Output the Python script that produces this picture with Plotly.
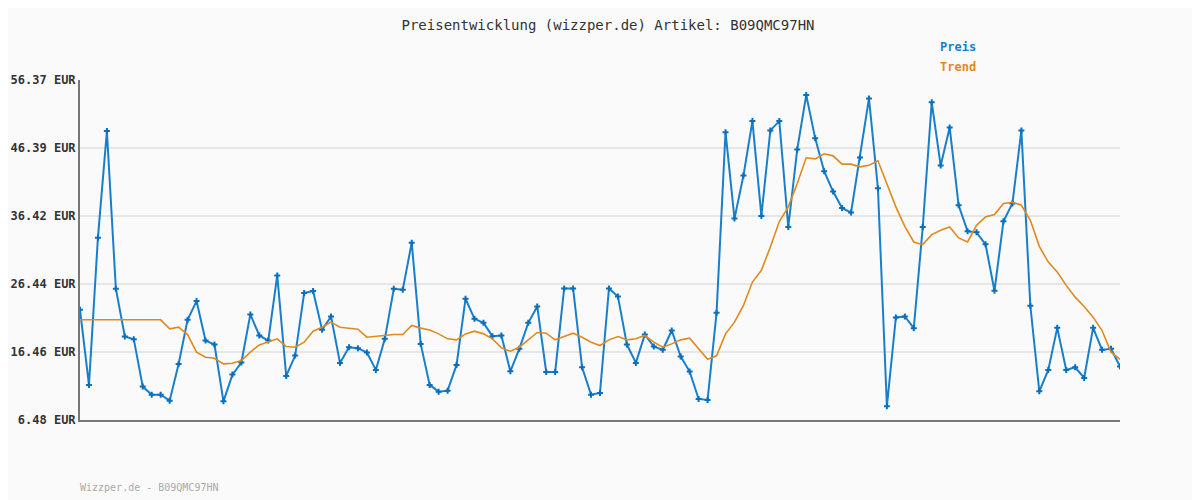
import plotly.graph_objects as go

preis = [22.65, 11.63, 33.24, 48.87, 25.74, 18.73, 18.34, 11.38, 10.2, 10.2,
         9.32, 14.71, 21.18, 23.93, 18.14, 17.55, 9.22, 13.14, 14.91, 21.97,
         18.88, 18.14, 27.7, 12.95, 15.94, 25.1, 25.4, 19.71, 21.67, 14.86,
         17.16, 17.02, 16.38, 13.83, 18.39, 25.74, 25.59, 32.5, 17.65, 11.63,
         10.64, 10.79, 14.56, 24.27, 21.33, 20.74, 18.78, 18.88, 13.63, 16.92,
         20.74, 23.14, 13.53, 13.53, 25.79, 25.79, 14.22, 10.2, 10.45, 25.79,
         24.61, 17.55, 14.86, 19.02, 17.26, 16.77, 19.61, 15.79, 13.58, 9.57,
         9.42, 22.21, 48.72, 36.03, 42.35, 50.34, 36.42, 48.97, 50.34,
         34.8, 46.18, 54.16, 47.84, 42.99, 40.0, 37.6, 36.91, 45.0, 53.67,
         40.49, 8.49, 21.52, 21.67, 19.96, 34.8, 53.09, 43.82, 49.41, 37.99,
         34.17, 34.02, 32.26, 25.44, 35.64, 38.24, 48.97, 23.24, 10.69, 13.83,
         20.0, 13.83, 14.22, 12.65, 20.0, 16.77, 16.92, 14.32]

trend = [21.18] * 10 + [
    19.86, 20.1, 19.02, 16.43, 15.69, 15.54, 14.71, 14.81, 15.2, 16.43,
    17.5, 17.9, 18.39, 17.26, 17.16, 17.9, 19.51, 20.1, 20.84, 20.1,
    19.96, 19.81, 18.63, 18.78, 18.88, 19.02, 19.02, 20.35, 19.96, 19.7,
    19.12, 18.39, 18.24, 19.12, 19.51, 19.12, 18.39, 17.06, 16.57, 17.16,
    18.24, 19.32, 19.22, 18.24, 18.73, 19.22, 18.63, 17.9, 17.41, 18.24,
    18.73, 18.24, 18.39, 18.88, 17.9, 17.16, 17.65, 18.24, 18.49, 16.92,
    15.39, 15.89, 19.12, 20.84, 23.29, 26.72, 28.44, 31.87, 35.6,
    37.75, 41.18, 44.95, 44.8, 45.54, 45.24, 44.02, 44.02, 43.63, 43.87,
    44.51, 41.18, 37.75, 34.9, 32.6, 32.21, 33.68, 34.32, 34.8, 33.19,
    32.6, 35.05, 36.28, 36.62, 38.24, 38.43, 37.99, 35.79, 31.96, 29.66,
    28.19, 26.23, 24.51, 23.14, 21.57, 19.61, 16.43, 15.39]

y_ticks = [6.48, 16.46, 26.44, 36.42, 46.39, 56.37]
x = list(range(len(preis)))

mono = "DejaVu Sans Mono"
blue = "#1a7fcb"
orange = "#e08a1e"

fig = go.Figure()
fig.add_trace(go.Scatter(x=x, y=preis, mode="lines+markers", name="Preis",
                         line=dict(color=blue, width=2),
                         marker=dict(symbol="cross", size=5, color="#0b6fbf")))
fig.add_trace(go.Scatter(x=x, y=trend[:len(x)], mode="lines", name="Trend",
                         line=dict(color=orange, width=1.6)))

# page has an 8px body margin, so shift the plot area back by 8px
fig.update_layout(
    width=1200, height=500, showlegend=False,
    paper_bgcolor="#fafafa", plot_bgcolor="#fafafa",
    margin=dict(l=72, r=88, t=72, b=88),
    font=dict(family=mono, size=12, color="#333"),
    title=dict(text="Preisentwicklung (wizzper.de) Artikel: B09QMC97HN",
               x=0.5, xanchor="center", y=0.975, font=dict(family=mono, size=14, color="#333")),
)
fig.update_xaxes(range=[0, len(x) - 1], showticklabels=False, showgrid=False,
                 zeroline=False, showline=True, linecolor="#777", linewidth=2)
fig.update_yaxes(range=[6.48, 56.37], tickvals=y_ticks, automargin=False,
                 ticktext=[f"<b>{v:.2f} EUR</b>" for v in y_ticks],
                 showgrid=True, gridcolor="#e6e6e6", gridwidth=2, zeroline=False,
                 showline=True, linecolor="#777", linewidth=2,
                 ticks="outside", ticklen=0, tickfont=dict(family=mono, size=12, color="#333"))

fig.add_annotation(x=938, y=47, text="<b>Preis</b>", showarrow=False,
                   font=dict(family=mono, size=12, color=blue))
fig.add_annotation(x=938, y=67, text="<b>Trend</b>", showarrow=False,
                   font=dict(family=mono, size=12, color=orange))
fig.add_annotation(x=78, y=487, text="Wizzper.de - B09QMC97HN", showarrow=False,
                   font=dict(family=mono, size=10, color="#aaa"))
for a in fig.layout.annotations:
    a.xref = "paper"; a.yref = "paper"
    a.xanchor = "left"; a.yanchor = "middle"
    a.x = (a.x - 80) / 1040
    a.y = (420 - a.y) / 340

fig.write_html("out.html")
